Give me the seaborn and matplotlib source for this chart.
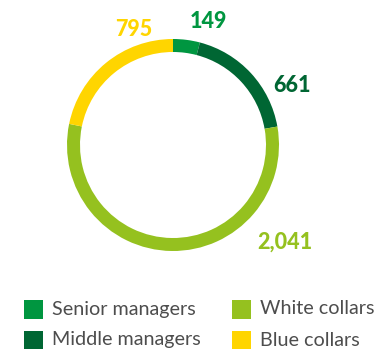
import matplotlib
matplotlib.use("Agg")
import matplotlib.pyplot as plt
import seaborn as sns
from matplotlib.patches import Rectangle

categories = ["Senior managers", "Middle managers", "White collars", "Blue collars"]
values = [149, 661, 2041, 795]
value_labels = ["149", "661", "2,041", "795"]
colors = ["#009640", "#006633", "#95C11F", "#FFD500"]

sns.set_theme(style="white")
plt.rcParams["font.family"] = ["Lato", "DejaVu Sans"]

W, H = 379, 349
fig = plt.figure(figsize=(W / 100, H / 100), dpi=100)
ax = fig.add_axes([0, 0, 1, 1])

cx, cy, r, width = 173, H - 145, 106, 13
ax.pie(values, colors=colors, startangle=90, counterclock=False,
       center=(cx, cy), radius=r, frame=True,
       wedgeprops=dict(width=width, linewidth=0))
ax.set_xlim(0, W)
ax.set_ylim(0, H)
ax.axis("off")

# value labels (pixel positions from top-left)
label_pos = [(208, 22), (292, 86), (285, 242), (134, 30)]
for (x, y), txt, c in zip(label_pos, value_labels, colors):
    ax.text(x, H - y, txt, color=c, fontsize=15.5, fontweight="black",
            ha="center", va="center")

# legend
leg_pos = [(24, 309), (24, 340), (232, 309), (232, 340)]
for (x, y), name, c in zip(leg_pos, categories, colors):
    ax.add_patch(Rectangle((x, H - y - 9.5), 19, 19, color=c, lw=0))
    ax.text(x + 28, H - y, name, color="#4d4d4d", fontsize=14.2,
            fontweight="normal", ha="left", va="center")

fig.savefig("out.png", dpi=100, facecolor="white")
